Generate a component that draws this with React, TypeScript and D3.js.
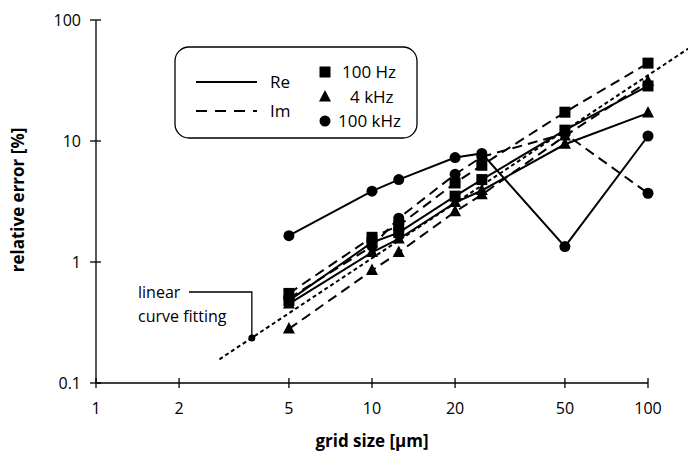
import React from "react";
import * as d3 from "d3";

const gridSizes = [5, 10, 12.5, 20, 25, 50, 100];
const re100Hz = [0.48, 1.45, 1.75, 3.5, 4.8, 12.3, 28.5];
const im100Hz = [0.55, 1.6, 2.0, 4.5, 6.3, 17.3, 44];
const re4kHz = [0.45, 1.2, 1.55, 3.1, 3.9, 9.4, 17];
const im4kHz = [0.28, 0.85, 1.2, 2.6, 3.6, 11, 31];
const re100kHz = [1.65, 3.85, 4.8, 7.3, 7.9, 1.34, 11];
const im100kHz = [0.5, 1.35, 2.3, 5.3, 7.4, 11.5, 3.7];

const fitX = [2.8, 140];
const fitY = [0.157, 58];
const fitMarker = { x: 3.67, y: 0.235 };

const xTicks = [1, 2, 5, 10, 20, 50, 100];
const yTicks = [0.1, 1, 10, 100];
const yTickLabels = ["0.1", "1", "10", "100"];

type Marker = "square" | "triangle" | "circle";
const seriesList: { name: string; values: number[]; marker: Marker; dashed: boolean }[] = [
  { name: "100 Hz Re", values: re100Hz, marker: "square", dashed: false },
  { name: "100 Hz Im", values: im100Hz, marker: "square", dashed: true },
  { name: "4 kHz Re", values: re4kHz, marker: "triangle", dashed: false },
  { name: "4 kHz Im", values: im4kHz, marker: "triangle", dashed: true },
  { name: "100 kHz Re", values: re100kHz, marker: "circle", dashed: false },
  { name: "100 kHz Im", values: im100kHz, marker: "circle", dashed: true },
];

const FONT = "'Open Sans', 'Noto Sans', sans-serif";

function MarkerShape({ type, cx, cy }: { type: Marker; cx: number; cy: number }) {
  if (type === "square") return <rect x={cx - 5.5} y={cy - 5.5} width={11} height={11} fill="#000" />;
  if (type === "triangle")
    return <path d={`M${cx},${cy - 7} L${cx + 6},${cy + 4.5} L${cx - 6},${cy + 4.5} Z`} fill="#000" />;
  return <circle cx={cx} cy={cy} r={5.5} fill="#000" />;
}

export default function App() {
  const W = 688, H = 455;
  const x = d3.scaleLog().domain([1, 100]).range([96, 648]);
  const y = d3.scaleLog().domain([0.1, 100]).range([383, 20]);
  const line = d3
    .line<[number, number]>()
    .x((d) => x(d[0]))
    .y((d) => y(d[1]));

  const fitPts: [number, number][] = fitX.map((v, i) => [v, fitY[i]]);

  return (
    <svg width={W} height={H} style={{ display: "block", position: "absolute", left: 0, top: 0 }}>
      <rect width={W} height={H} fill="#fff" />
      {/* axes */}
      <line x1={x(1)} x2={x(100)} y1={y(0.1)} y2={y(0.1)} stroke="#000" strokeWidth={1.3} />
      <line x1={x(1)} x2={x(1)} y1={y(0.1)} y2={y(100)} stroke="#000" strokeWidth={1.3} />
      {xTicks.map((t) => (
        <g key={"xt" + t}>
          <line x1={x(t)} x2={x(t)} y1={y(0.1) - 5} y2={y(0.1) + 5} stroke="#000" strokeWidth={1.3} />
          <text x={x(t)} y={414} textAnchor="middle" fontFamily={FONT} fontSize={16}>
            {t}
          </text>
        </g>
      ))}
      {yTicks.map((t, i) => (
        <g key={"yt" + t}>
          <line x1={x(1) - 6} x2={x(1) + 5} y1={y(t)} y2={y(t)} stroke="#000" strokeWidth={1.3} />
          <text x={81} y={y(t) + 5.5} textAnchor="end" fontFamily={FONT} fontSize={16}>
            {yTickLabels[i]}
          </text>
        </g>
      ))}
      <text x={372} y={447} textAnchor="middle" fontFamily={FONT} fontWeight="bold" fontSize={17}>
        grid size [µm]
      </text>
      <text
        transform={`translate(24,200) rotate(-90)`}
        textAnchor="middle"
        fontFamily={FONT}
        fontWeight="bold"
        fontSize={17}
      >
        relative error [%]
      </text>

      {/* fit line */}
      <path d={line(fitPts) || ""} fill="none" stroke="#000" strokeWidth={2} strokeDasharray="4,3" />

      {/* series */}
      {seriesList.map((s) => {
        const pts: [number, number][] = gridSizes.map((g, i) => [g, s.values[i]]);
        return (
          <g key={s.name}>
            <path
              d={line(pts) || ""}
              fill="none"
              stroke="#000"
              strokeWidth={2}
              strokeDasharray={s.dashed ? "10,6" : undefined}
            />
            {pts.map((p, i) => (
              <MarkerShape key={i} type={s.marker} cx={x(p[0])} cy={y(p[1])} />
            ))}
          </g>
        );
      })}

      {/* annotation */}
      <circle cx={x(fitMarker.x)} cy={y(fitMarker.y)} r={3.5} fill="#000" />
      <polyline
        points={`189,292 ${x(fitMarker.x)},292 ${x(fitMarker.x)},${y(fitMarker.y)}`}
        fill="none"
        stroke="#000"
        strokeWidth={1.3}
      />
      <text x={138} y={298} fontFamily={FONT} fontSize={16}>
        linear
      </text>
      <text x={138} y={322} fontFamily={FONT} fontSize={16}>
        curve fitting
      </text>

      {/* legend */}
      <rect x={175} y={47} width={242} height={91} rx={14} fill="#fff" stroke="#000" strokeWidth={1.3} />
      <line x1={196} x2={257} y1={82} y2={82} stroke="#000" strokeWidth={2} />
      <text x={270} y={88} fontFamily={FONT} fontSize={17}>
        Re
      </text>
      <line x1={196} x2={257} y1={111} y2={111} stroke="#000" strokeWidth={2} strokeDasharray="11,8" />
      <text x={270} y={117} fontFamily={FONT} fontSize={17}>
        Im
      </text>
      <MarkerShape type="square" cx={325} cy={72} />
      <text x={342} y={78} fontFamily={FONT} fontSize={17}>
        100 Hz
      </text>
      <MarkerShape type="triangle" cx={325} cy={97} />
      <text x={350} y={103} fontFamily={FONT} fontSize={17}>
        4 kHz
      </text>
      <MarkerShape type="circle" cx={325} cy={121} />
      <text x={338} y={127} fontFamily={FONT} fontSize={17}>
        100 kHz
      </text>
    </svg>
  );
}
